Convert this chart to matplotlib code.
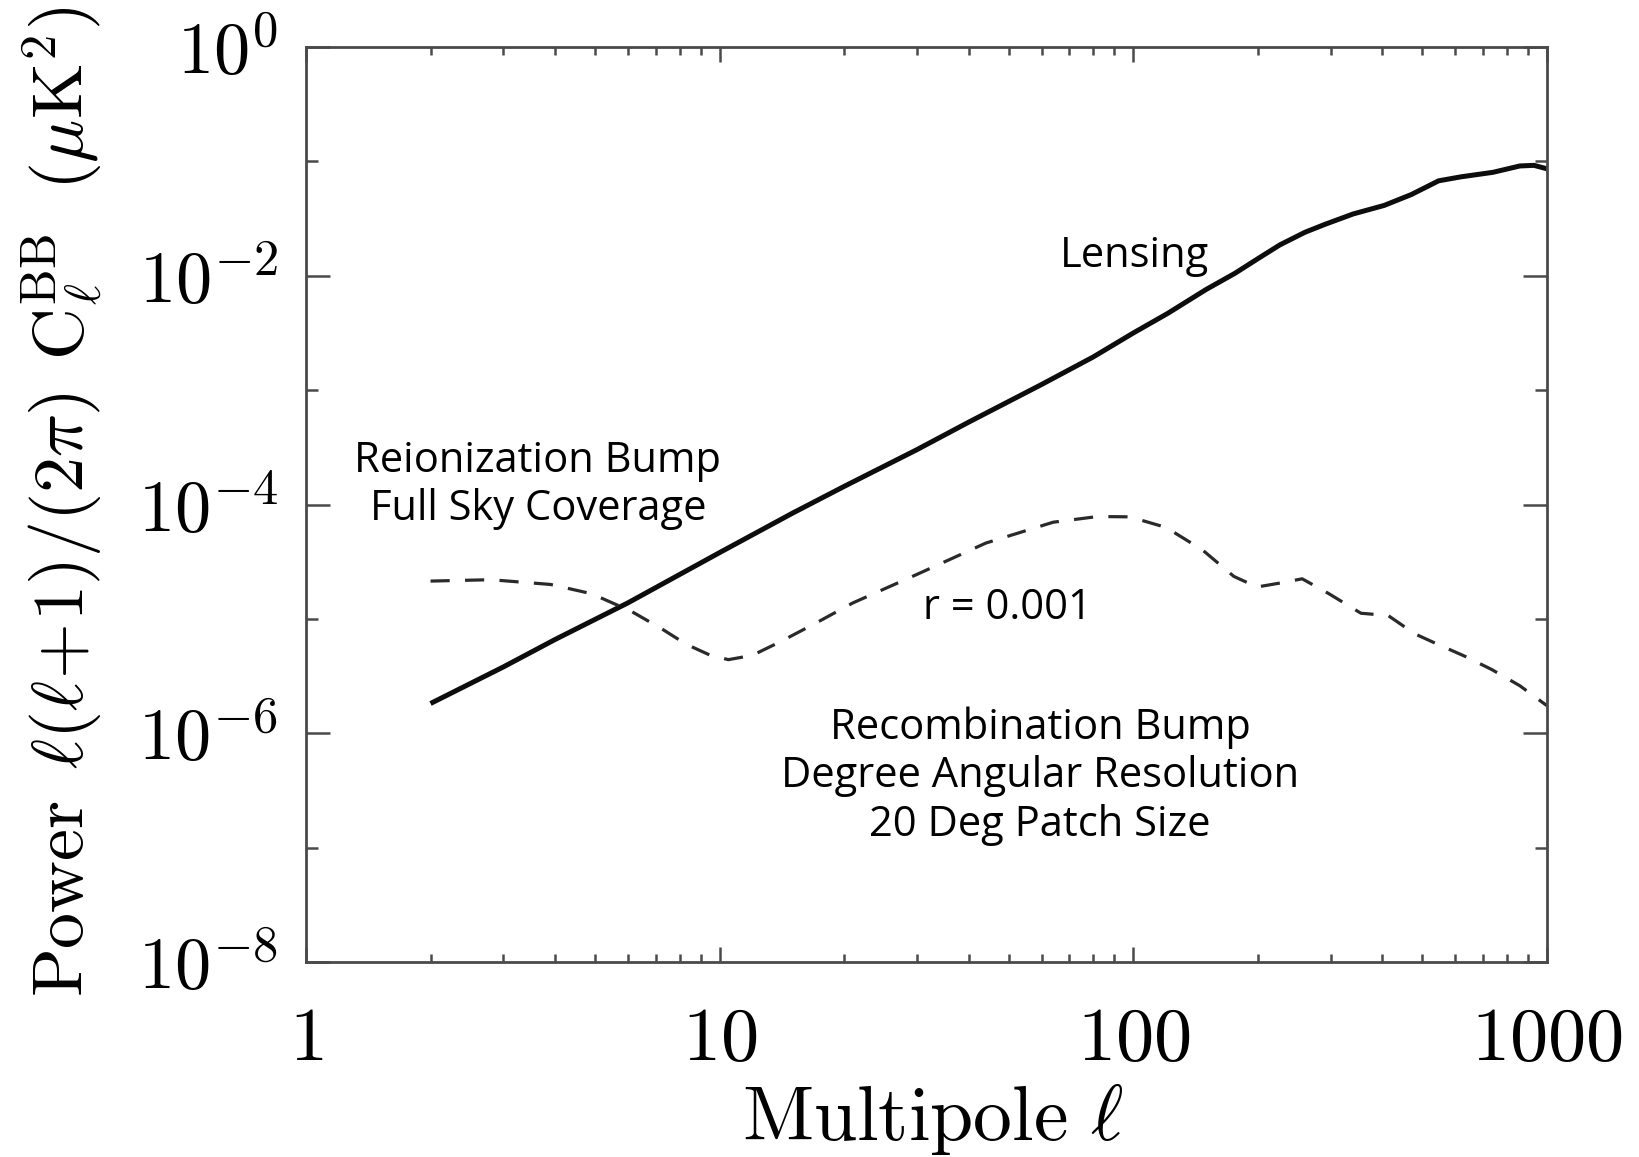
import numpy as np
import matplotlib
matplotlib.use("Agg")
import matplotlib.pyplot as plt
from matplotlib.ticker import FixedLocator, FuncFormatter, NullFormatter

# Lensing B-mode spectrum, l(l+1)C_l/2pi in uK^2
lensing_ell = [2, 3, 4, 6, 10, 15, 20, 30, 40, 60, 80, 100, 121, 150, 176,
               200, 226, 260, 291, 340, 404, 470, 547, 620, 740, 860, 930,
               1000]
lensing_power = [1.82e-6, 3.8e-6, 6.6e-6, 1.38e-5, 3.8e-5, 8.4e-5, 1.44e-4,
                 3.02e-4, 5.25e-4, 1.12e-3, 1.95e-3, 3.16e-3, 4.68e-3,
                 7.59e-3, 1.05e-2, 1.41e-2, 1.86e-2, 2.40e-2, 2.82e-2,
                 3.47e-2, 4.12e-2, 5.13e-2, 6.76e-2, 7.33e-2, 8.02e-2,
                 9.12e-2, 9.23e-2, 8.61e-2]

# Primordial (tensor) B-mode spectrum for r = 0.001
tensor_ell = [2, 2.8, 3.9, 4.9, 6.1, 7.2, 8.3, 9.5, 10.5, 12, 14, 17, 21, 30,
              44, 64, 82, 98, 120, 147, 175, 199, 225, 256, 297, 355, 413,
              479, 544, 634, 736, 860, 1000]
tensor_power = [2.14e-5, 2.2e-5, 2.0e-5, 1.66e-5, 1.17e-5, 8.3e-6, 6.0e-6,
                4.8e-6, 4.4e-6, 4.8e-6, 6.3e-6, 9.1e-6, 1.38e-5, 2.45e-5,
                4.6e-5, 7.0e-5, 7.85e-5, 7.8e-5, 6.3e-5, 4.0e-5, 2.35e-5,
                1.9e-5, 2.05e-5, 2.24e-5, 1.66e-5, 1.12e-5, 1.07e-5, 7.4e-6,
                6.0e-6, 4.7e-6, 3.6e-6, 2.6e-6, 1.74e-6]

x_major = [1, 10, 100, 1000]
y_labelled = [1e-8, 1e-6, 1e-4, 1e-2, 1e0]
y_unlabelled = [1e-7, 1e-5, 1e-3, 1e-1]

plt.rcParams['mathtext.fontset'] = 'cm'

W, H = 1639, 1157
fig = plt.figure(figsize=(W / 100, H / 100), dpi=100)
ax = fig.add_axes([306 / W, 1 - 962 / H, (1547 - 306) / W, (962 - 47) / H])

ax.plot(lensing_ell, lensing_power, color='#0d0d0d', lw=3.6,
        solid_joinstyle='round', solid_capstyle='butt')
ax.plot(tensor_ell, tensor_power, color='#2a2a2a', lw=2.3,
        linestyle=(0, (6.0, 4.8)))

ax.set_xscale('log')
ax.set_yscale('log')
ax.set_xlim(1, 1000)
ax.set_ylim(1e-8, 1)

# x axis: decades labelled, 2..9 as short ticks
ax.xaxis.set_major_locator(FixedLocator(x_major))
ax.xaxis.set_minor_locator(FixedLocator(
    [m * d for d in (1, 10, 100) for m in range(2, 10)]))
ax.xaxis.set_major_formatter(FuncFormatter(lambda v, p: r'$%d$' % round(v)))
ax.xaxis.set_minor_formatter(NullFormatter())

# y axis: even decades labelled, odd decades as shorter ticks
ax.yaxis.set_major_locator(FixedLocator(y_labelled))
ax.yaxis.set_minor_locator(FixedLocator(y_unlabelled))
ax.yaxis.set_major_formatter(FuncFormatter(
    lambda v, p: r'$\mathrm{10}^{%d}$' % round(np.log10(v))))
ax.yaxis.set_minor_formatter(NullFormatter())

for s in ax.spines.values():
    s.set_linewidth(2.0)
    s.set_color('#4a4a4a')

ax.tick_params(axis='both', which='both', direction='in', top=True, right=True,
               color='#4a4a4a', width=1.8)
ax.tick_params(axis='x', which='major', length=11, pad=29, labelsize=55)
ax.tick_params(axis='x', which='minor', length=6)
ax.tick_params(axis='y', which='major', length=17, pad=20, labelsize=52)
ax.tick_params(axis='y', which='minor', length=8.5)

ax.set_xlabel(r'$\mathrm{Multipole}\ \ell$', fontsize=56, va='center')
ax.xaxis.set_label_coords(0.505, (962 - 1119) / 915)

ylab = ax.set_ylabel(r'$\mathrm{Power}\ \,\ell(\ell\!+\!1)/(2\pi)\;\,'
                     r'\mathrm{C}_\ell^{\mathrm{BB}}\ \;(\mu\mathrm{K}^2)$',
                     fontsize=54, va='center')
ax.yaxis.set_label_coords((62 - 306) / 1241, (962 - 502) / 915)

# scale the rotated label so it runs from the top edge down to below the axes
fig.canvas.draw()
span = ylab.get_window_extent(fig.canvas.get_renderer()).height
ylab.set_fontsize(54 * 990 / span)

note_font = dict(family=['Open Sans', 'DejaVu Sans'], fontsize=30,
                 color='black', ha='center', va='center')
fig.text(1135 / W, 1 - 256 / H, 'Lensing', **note_font)
fig.text(538 / W, 1 - 485 / H, 'Reionization Bump\nFull Sky Coverage',
         multialignment='center', **note_font)
fig.text(1007 / W, 1 - 608 / H, 'r = 0.001', **note_font)
fig.text(1040 / W, 1 - 776 / H,
         'Recombination Bump\nDegree Angular Resolution\n20 Deg Patch Size',
         multialignment='center', **note_font)

fig.savefig('out.png', dpi=100)
